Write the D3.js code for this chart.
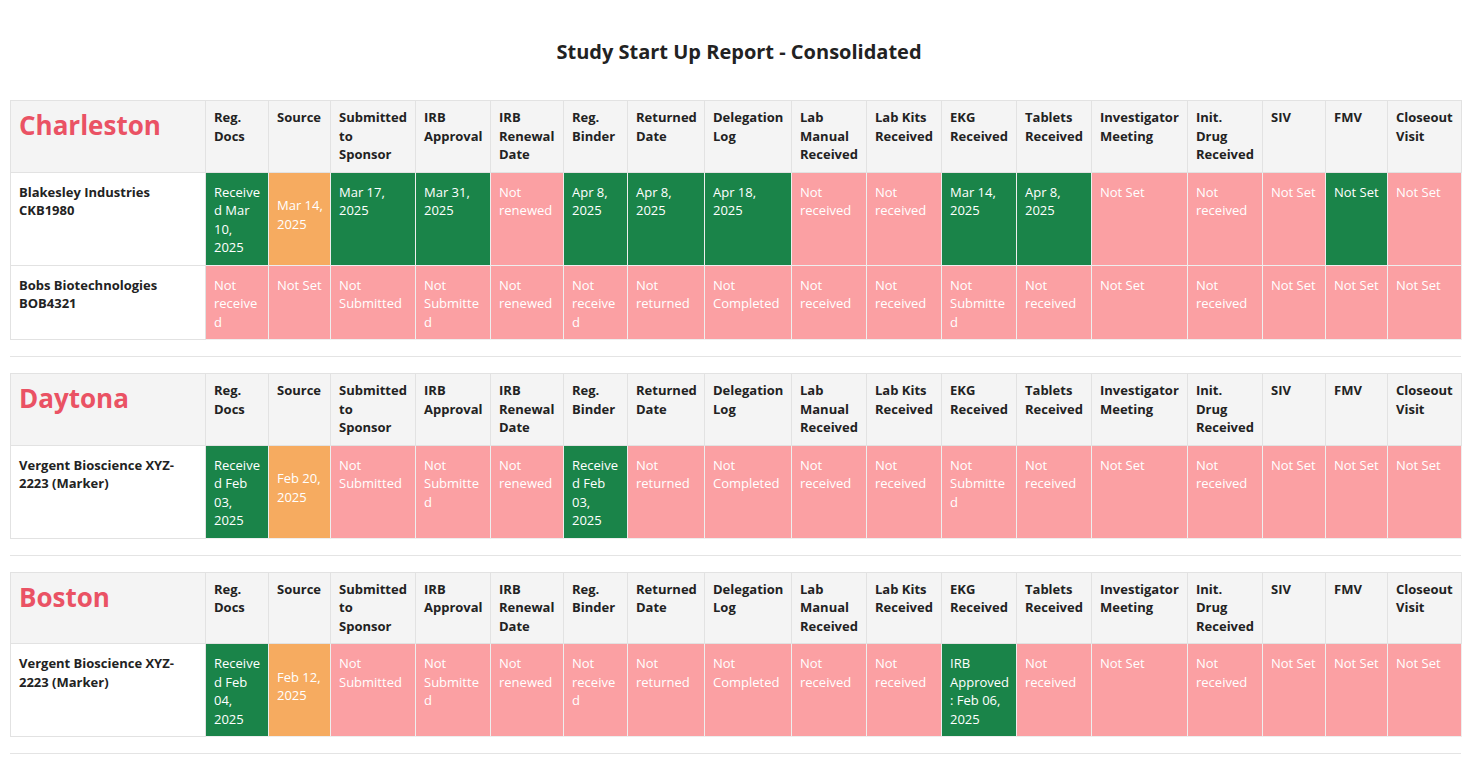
<!DOCTYPE html>
<html><head><meta charset="utf-8">
<script src="https://cdn.jsdelivr.net/npm/d3@7"></script>
<style>
body{margin:0;font-family:"Open Sans",sans-serif;background:#fff;color:#222;}
h1{font-size:20px;font-weight:700;text-align:center;margin:38px 0 0 0;height:62px;line-height:28px;}
.wrap{margin:0 17px 0 10px;}
table{border-collapse:collapse;table-layout:fixed;width:1452px;font-size:13px;line-height:18.5px;}
th,td{border:1px solid #e2e2e2;padding:7px 7px 8px 8px;vertical-align:top;text-align:left;overflow-wrap:anywhere;}
th{background:#f4f4f4;font-weight:700;}
th.site{font-size:26px;color:#ea5264;line-height:34px;padding-top:7px;}
td.study{font-weight:700;padding-top:10px;}
td.cell{color:#fff;padding-top:10px;border-color:#eee;}
td.green{background:#1a8449;}
td.red{background:#fba0a3;}
td.orange{background:#f6ab60;vertical-align:middle;padding-top:0;}
hr{border:none;border-top:1px solid #e4e4e4;margin:16px 0 16px 0;}
</style></head>
<body>
<h1>Study Start Up Report - Consolidated</h1>
<div class="wrap" id="report"></div>
<script>
const columns = ["Reg. Docs","Source","Submitted to Sponsor","IRB Approval","IRB Renewal Date","Reg. Binder","Returned Date","Delegation Log","Lab Manual Received","Lab Kits Received","EKG Received","Tablets Received","Investigator Meeting","Init. Drug Received","SIV","FMV","Closeout Visit"];
const columnWidths = [195,63,62,85,75,73,64,77,87,75,75,75,75,96,75,63,62,74];
const sites = ["Charleston","Daytona","Boston"];
const studies = [
  ["Blakesley Industries CKB1980","Bobs Biotechnologies BOB4321"],
  ["Vergent Bioscience XYZ-2223 (Marker)"],
  ["Vergent Bioscience XYZ-2223 (Marker)"]
];
const cellTexts = [
  [
    ["Received Mar 10, 2025","Mar 14, 2025","Mar 17, 2025","Mar 31, 2025","Not renewed","Apr 8, 2025","Apr 8, 2025","Apr 18, 2025","Not received","Not received","Mar 14, 2025","Apr 8, 2025","Not Set","Not received","Not Set","Not Set","Not Set"],
    ["Not received","Not Set","Not Submitted","Not Submitted","Not renewed","Not received","Not returned","Not Completed","Not received","Not received","Not Submitted","Not received","Not Set","Not received","Not Set","Not Set","Not Set"]
  ],
  [
    ["Received Feb 03, 2025","Feb 20, 2025","Not Submitted","Not Submitted","Not renewed","Received Feb 03, 2025","Not returned","Not Completed","Not received","Not received","Not Submitted","Not received","Not Set","Not received","Not Set","Not Set","Not Set"]
  ],
  [
    ["Received Feb 04, 2025","Feb 12, 2025","Not Submitted","Not Submitted","Not renewed","Not received","Not returned","Not Completed","Not received","Not received","IRB Approved: Feb 06, 2025","Not received","Not Set","Not received","Not Set","Not Set","Not Set"]
  ]
];
const cellStatus = [
  [
    ["green","orange","green","green","red","green","green","green","red","red","green","green","red","red","red","green","red"],
    ["red","red","red","red","red","red","red","red","red","red","red","red","red","red","red","red","red"]
  ],
  [
    ["green","orange","red","red","red","green","red","red","red","red","red","red","red","red","red","red","red"]
  ],
  [
    ["green","orange","red","red","red","red","red","red","red","red","green","red","red","red","red","red","red"]
  ]
];

const report = d3.select("#report");
sites.forEach((site, si) => {
  const table = report.append("table");
  table.append("colgroup").selectAll("col").data(columnWidths).join("col")
    .style("width", d => d + "px");
  const head = table.append("thead").append("tr");
  head.append("th").attr("class", "site").text(site);
  head.selectAll("th.col").data(columns).join("th").attr("class", "col").text(d => d);
  const body = table.append("tbody");
  const rows = body.selectAll("tr").data(studies[si]).join("tr");
  rows.append("td").attr("class", "study").text(d => d);
  rows.each(function(study, ri) {
    d3.select(this).selectAll("td.cell")
      .data(cellTexts[si][ri].map((t, ci) => ({t, s: cellStatus[si][ri][ci]})))
      .join("td").attr("class", d => "cell " + d.s).text(d => d.t);
  });
  report.append("hr");
});
</script>
</body></html>
